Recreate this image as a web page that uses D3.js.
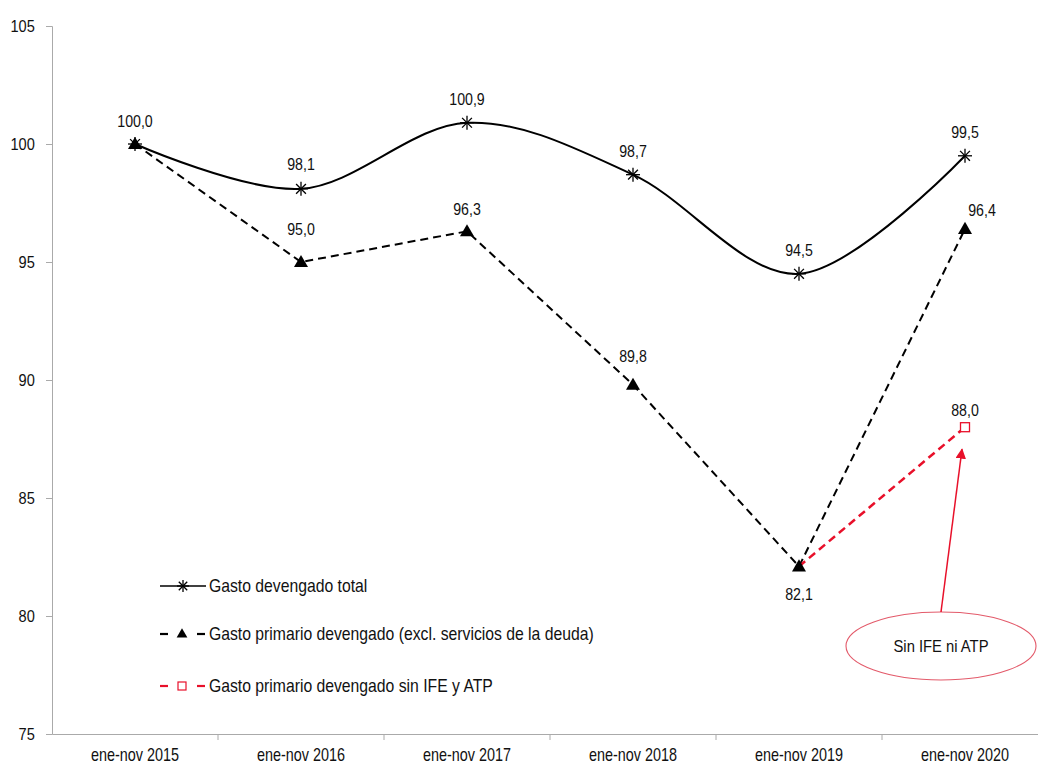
<!DOCTYPE html>
<html><head><meta charset="utf-8">
<script src="https://cdn.jsdelivr.net/npm/d3@7"></script>
<style>
body{margin:0;background:#fff;}
text{font-family:"Liberation Sans",Arial,sans-serif;fill:#111;}
</style></head>
<body><svg id="c" width="1038" height="764"></svg>
<script>
const categories = ["ene-nov 2015","ene-nov 2016","ene-nov 2017","ene-nov 2018","ene-nov 2019","ene-nov 2020"];
const totalValues = [100.0, 98.1, 100.9, 98.7, 94.5, 99.5];
const primaryValues = [100.0, 95.0, 96.3, 89.8, 82.1, 96.4];
const sinIfeValues = [null, null, null, null, 82.1, 88.0];
const yTicks = [75, 80, 85, 90, 95, 100, 105];
const legendLabels = ["Gasto devengado total","Gasto primario devengado (excl. servicios de la deuda)","Gasto primario devengado sin IFE y ATP"];
const annotationText = "Sin IFE ni ATP";

// label placement (layout, not data): [dx, dy baseline offset]
const totalLabelPos = [[0,-17],[0,-19],[0,-18],[0,-18],[0,-18],[0,-18]];
const primaryLabelPos = [null,[0,-27],[0,-16],[0,-23],[0,34],[17,-13]];

const SX = 0.86;
const svg = d3.select("#c");
const fmt = v => v.toFixed(1).replace(".", ",");
const x = d3.scaleBand().domain(categories).range([52, 1048]);
const y = d3.scaleLinear().domain([75, 105]).range([734, 26]);
const cx = c => x(c) + x.bandwidth()/2;

function ntext(g, px, py, t, size, anchor, sx){
  return g.append("text").attr("transform",`translate(${px},${py}) scale(${sx||SX},1)`)
    .attr("text-anchor",anchor||"middle").attr("font-size",size).text(t);
}

// axes
const yAxis = svg.append("g").attr("transform","translate(52,0)")
  .call(d3.axisLeft(y).tickValues(yTicks).tickSize(6).tickPadding(10).tickFormat(d3.format("d")));
yAxis.select(".domain").attr("stroke","#aaa");
yAxis.selectAll(".tick line").attr("stroke","#aaa");
yAxis.selectAll("text").attr("font-size",17).attr("fill","#111").attr("x",-20)
  .attr("transform",`scale(${SX},1)`);

const xAxis = svg.append("g").attr("transform","translate(0,734)")
  .call(d3.axisBottom(x).tickSize(0));
xAxis.select(".domain").attr("stroke","#aaa");
xAxis.selectAll("text").attr("font-size",18).attr("fill","#111").attr("y",14)
  .attr("transform","scale(0.8,1)");
xAxis.selectAll(".bt").data(categories.slice(1)).enter().append("line")
  .attr("x1", d => x(d)).attr("x2", d => x(d)).attr("y1",0).attr("y2",6).attr("stroke","#aaa");

// series
const pts = vals => categories.map((c,i)=>({c, i, v: vals[i]})).filter(d=>d.v!=null);

svg.append("path").datum(pts(totalValues))
  .attr("fill","none").attr("stroke","#000").attr("stroke-width",2)
  .attr("d", d3.line().x(d=>cx(d.c)).y(d=>y(d.v)).curve(d3.curveCardinal.tension(0)));

svg.append("path").datum(pts(primaryValues))
  .attr("fill","none").attr("stroke","#000").attr("stroke-width",2).attr("stroke-dasharray","8,5")
  .attr("d", d3.line().x(d=>cx(d.c)).y(d=>y(d.v)));

svg.append("path").datum(pts(sinIfeValues))
  .attr("fill","none").attr("stroke","#e8102a").attr("stroke-width",2.5).attr("stroke-dasharray","8,5")
  .attr("d", d3.line().x(d=>cx(d.c)).y(d=>y(d.v)));

// markers
function asterisk(g, px, py, r){
  const a = g.append("g").attr("transform",`translate(${px},${py})`).attr("stroke","#000").attr("stroke-width",1.3);
  a.append("line").attr("x1",-r).attr("x2",r).attr("y1",0).attr("y2",0);
  a.append("line").attr("x1",-r*0.7).attr("x2",r*0.7).attr("y1",-r*0.7).attr("y2",r*0.7);
  a.append("line").attr("x1",-r*0.7).attr("x2",r*0.7).attr("y1",r*0.7).attr("y2",-r*0.7);
  a.append("line").attr("x1",0).attr("x2",0).attr("y1",-r).attr("y2",r);
}
const tri = d3.symbol().type(d3.symbolTriangle).size(85);
pts(primaryValues).forEach(d=>{
  svg.append("path").attr("d",tri()).attr("transform",`translate(${cx(d.c)},${y(d.v)+1})`).attr("fill","#000");
});
pts(totalValues).forEach(d=> asterisk(svg, cx(d.c), y(d.v), 7));
pts(sinIfeValues).slice(1).forEach(d=>{
  svg.append("rect").attr("x",cx(d.c)-4.5).attr("y",y(d.v)-4.5).attr("width",9).attr("height",9)
    .attr("fill","#fff").attr("stroke","#e8102a").attr("stroke-width",1.3);
});

// data labels
pts(totalValues).forEach(d=>{
  const p = totalLabelPos[d.i];
  ntext(svg, cx(d.c)+p[0], y(d.v)+p[1], fmt(d.v), 16.5);
});
pts(primaryValues).forEach(d=>{
  const p = primaryLabelPos[d.i];
  if(!p) return;
  ntext(svg, cx(d.c)+p[0], y(d.v)+p[1], fmt(d.v), 16.5);
});
{
  const d = pts(sinIfeValues)[1];
  ntext(svg, cx(d.c), y(d.v)-11, fmt(d.v), 16.5);
}

// legend
const lg = svg.append("g");
const rows = [586, 634, 686];
lg.append("line").attr("x1",160).attr("x2",206).attr("y1",rows[0]).attr("y2",rows[0]).attr("stroke","#000").attr("stroke-width",1.3);
asterisk(lg, 183, rows[0], 6);
[[0,"#000"],[1,"#e8102a"]].forEach(([k,col])=>{
  const yy = rows[k+1];
  lg.append("line").attr("x1",160).attr("x2",168).attr("y1",yy).attr("y2",yy).attr("stroke",col).attr("stroke-width",2.2);
  lg.append("line").attr("x1",197).attr("x2",205).attr("y1",yy).attr("y2",yy).attr("stroke",col).attr("stroke-width",2.2);
});
lg.append("path").attr("d",d3.symbol().type(d3.symbolTriangle).size(50)()).attr("transform",`translate(182,${rows[1]+0.5})`).attr("fill","#000");
lg.append("rect").attr("x",178).attr("y",rows[2]-4).attr("width",8).attr("height",8).attr("fill","#fff").attr("stroke","#e8102a").attr("stroke-width",1.2);
legendLabels.forEach((t,i)=> ntext(lg, 209, rows[i]+6, t, 17.5, "start", 0.9));

// annotation
const defs = svg.append("defs");
defs.append("marker").attr("id","arr").attr("viewBox","0 0 10 10").attr("refX",9).attr("refY",5)
  .attr("markerWidth",7).attr("markerHeight",7).attr("orient","auto")
  .append("path").attr("d","M0,0 L10,5 L0,10 z").attr("fill","#e8102a");
const ad = pts(sinIfeValues)[1];
const ax = cx(ad.c), ay = y(ad.v);
svg.append("ellipse").attr("cx",941).attr("cy",646).attr("rx",95).attr("ry",34)
  .attr("fill","#fff").attr("stroke","#e35a6a").attr("stroke-width",1.1);
svg.append("line").attr("x1",941).attr("y1",612).attr("x2",ax-3).attr("y2",ay+22)
  .attr("stroke","#e8102a").attr("stroke-width",1.5).attr("marker-end","url(#arr)");
ntext(svg, 941, 652, annotationText, 17, "middle", 0.87);
</script></body></html>
